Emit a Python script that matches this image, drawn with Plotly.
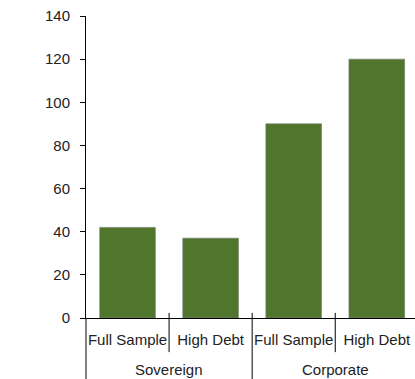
import plotly.graph_objects as go

# Bar values by group and sample
groups = ["Sovereign", "Sovereign", "Corporate", "Corporate"]
samples = ["Full Sample", "High Debt", "Full Sample", "High Debt"]
values = [42, 37, 90, 120]
y_ticks = [0, 20, 40, 60, 80, 100, 120, 140]

GREEN = "#50762D"
TEXT = "#222222"
FONT = "Liberation Sans, Arial, sans-serif"

positions = list(range(len(values)))

fig = go.Figure(
    go.Bar(
        x=positions,
        y=values,
        marker=dict(color=GREEN, line=dict(color="rgba(120,125,110,0.8)", width=0.8)),
        hoverinfo="y",
    )
)

fig.update_layout(
    width=415,
    height=379,
    margin=dict(l=86, r=0, t=16, b=61),
    paper_bgcolor="white",
    plot_bgcolor="white",
    bargap=0.33,
    showlegend=False,
    font=dict(family=FONT, size=15, color=TEXT),
)

fig.update_xaxes(
    range=[-0.5, 3.46],
    tickmode="array",
    tickvals=positions,
    ticktext=samples,
    showgrid=False,
    zeroline=False,
    showline=True,
    linecolor="black",
    linewidth=1,
    ticks="",
    ticklabelstandoff=8,
    tickfont=dict(family=FONT, size=15, color=TEXT),
)

fig.update_yaxes(
    range=[0, 140],
    tickvals=y_ticks,
    showgrid=False,
    zeroline=False,
    showline=True,
    linecolor="black",
    linewidth=1,
    ticks="outside",
    ticklen=5,
    tickcolor="black",
    ticklabelstandoff=7,
    tickfont=dict(family=FONT, size=15, color=TEXT),
)

# Extend the value axis line down through the category label rows
fig.add_shape(type="line", xref="paper", yref="paper", x0=0, x1=0, y0=0, y1=-0.22,
              line=dict(color="black", width=1))

# Dividers between samples (short) and between groups (long)
for i in range(len(positions) - 1):
    same_group = groups[i] == groups[i + 1]
    fig.add_shape(
        type="line", xref="x", yref="paper",
        x0=i + 0.5, x1=i + 0.5,
        y0=0.017, y1=-0.113 if same_group else -0.22,
        line=dict(color="black", width=1),
    )

# Group labels centred under their categories
seen = []
for g in groups:
    if g not in seen:
        seen.append(g)
for g in seen:
    idx = [i for i, gg in enumerate(groups) if gg == g]
    fig.add_annotation(
        x=sum(idx) / len(idx), y=-0.172, xref="x", yref="paper",
        text=g, showarrow=False, yanchor="middle",
        font=dict(family=FONT, size=15, color=TEXT),
    )

fig.write_html("out.html")
